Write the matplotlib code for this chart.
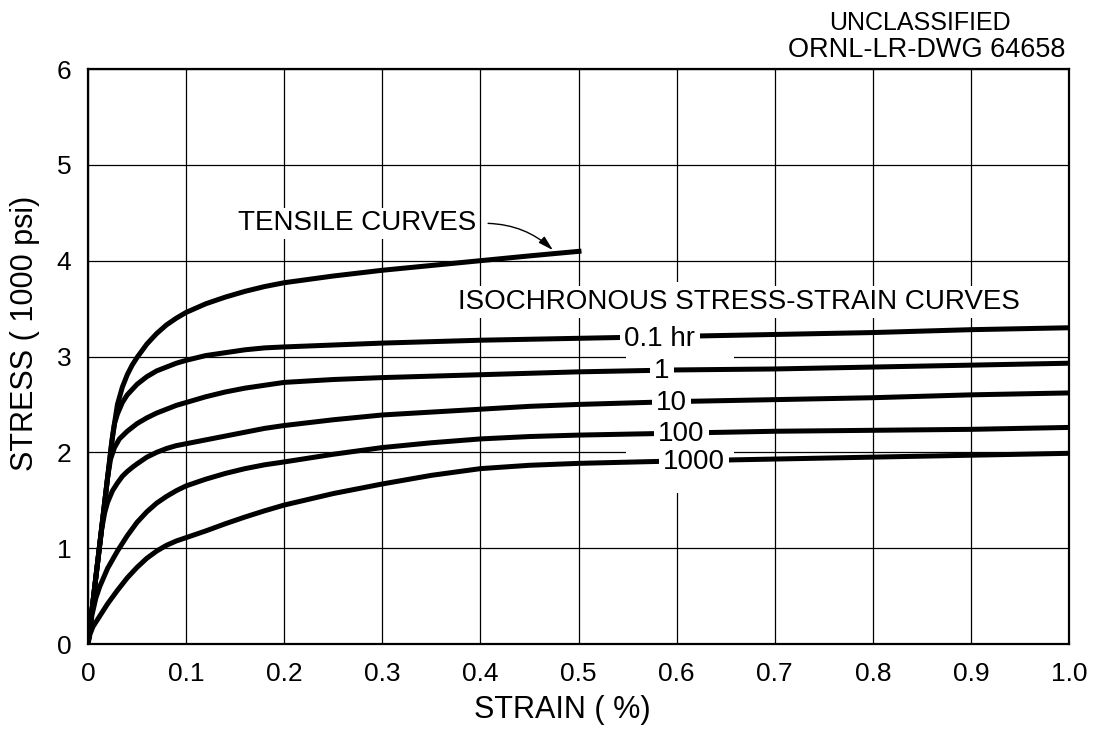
import matplotlib
matplotlib.use("Agg")
import matplotlib.pyplot as plt
from matplotlib.patches import Rectangle

plt.rcParams["font.family"] = ["Liberation Sans", "DejaVu Sans"]

# Strain (%) / stress (1000 psi) pairs for each curve
tensile_strain = [0.0, 0.010, 0.020, 0.025, 0.030, 0.035, 0.040, 0.045, 0.050, 0.060,
                  0.070, 0.080, 0.090, 0.100, 0.120, 0.140, 0.160, 0.180, 0.200, 0.25,
                  0.30, 0.35, 0.40, 0.45, 0.503]
tensile_stress = [0.0, 0.87, 1.74, 2.17, 2.50, 2.68, 2.81, 2.91, 2.99, 3.13,
                  3.24, 3.33, 3.40, 3.46, 3.55, 3.62, 3.68, 3.73, 3.77, 3.84,
                  3.90, 3.95, 4.00, 4.05, 4.10]

hr01_strain = [0.0, 0.010, 0.020, 0.024, 0.027, 0.030, 0.035, 0.040, 0.050, 0.060,
               0.070, 0.080, 0.090, 0.100, 0.120, 0.140, 0.160, 0.180, 0.200, 0.25,
               0.30, 0.40, 0.50, 0.60, 0.70, 0.80, 0.90, 1.00]
hr01_stress = [0.0, 0.87, 1.74, 2.09, 2.30, 2.40, 2.52, 2.60, 2.71, 2.79,
               2.85, 2.89, 2.93, 2.96, 3.01, 3.04, 3.07, 3.09, 3.10, 3.12,
               3.14, 3.17, 3.19, 3.21, 3.23, 3.25, 3.28, 3.30]

hr1_strain = [0.0, 0.010, 0.020, 0.023, 0.027, 0.032, 0.040, 0.050, 0.060, 0.070,
              0.080, 0.090, 0.100, 0.120, 0.140, 0.160, 0.180, 0.200, 0.25, 0.30,
              0.40, 0.50, 0.60, 0.70, 0.80, 0.90, 1.00]
hr1_stress = [0.0, 0.87, 1.74, 1.93, 2.05, 2.14, 2.22, 2.30, 2.36, 2.41,
              2.45, 2.49, 2.52, 2.58, 2.63, 2.67, 2.70, 2.73, 2.76, 2.78,
              2.81, 2.84, 2.86, 2.87, 2.89, 2.91, 2.93]

hr10_strain = [0.0, 0.008, 0.014, 0.017, 0.020, 0.025, 0.030, 0.035, 0.040, 0.046,
               0.050, 0.060, 0.070, 0.080, 0.090, 0.100, 0.120, 0.140, 0.160, 0.180,
               0.200, 0.25, 0.30, 0.35, 0.40, 0.45, 0.50, 0.60, 0.70, 0.80,
               0.90, 1.00]
hr10_stress = [0.0, 0.70, 1.20, 1.37, 1.48, 1.60, 1.68, 1.75, 1.80, 1.85,
               1.88, 1.95, 2.00, 2.04, 2.07, 2.09, 2.13, 2.17, 2.21, 2.25,
               2.28, 2.34, 2.39, 2.42, 2.45, 2.48, 2.50, 2.53, 2.55, 2.57,
               2.60, 2.62]

hr100_strain = [0.0, 0.004, 0.008, 0.012, 0.020, 0.030, 0.040, 0.050, 0.060, 0.070,
                0.080, 0.090, 0.100, 0.120, 0.140, 0.160, 0.180, 0.200, 0.25, 0.30,
                0.35, 0.40, 0.45, 0.50, 0.60, 0.70, 0.80, 0.90, 1.00]
hr100_stress = [0.0, 0.30, 0.48, 0.60, 0.79, 0.97, 1.13, 1.27, 1.38, 1.47,
                1.54, 1.60, 1.65, 1.72, 1.78, 1.83, 1.87, 1.90, 1.98, 2.05,
                2.10, 2.14, 2.165, 2.18, 2.20, 2.22, 2.23, 2.24, 2.26]

hr1000_strain = [0.0, 0.002, 0.005, 0.010, 0.020, 0.030, 0.040, 0.050, 0.060, 0.070,
                 0.080, 0.090, 0.100, 0.120, 0.140, 0.160, 0.180, 0.200, 0.25, 0.30,
                 0.35, 0.40, 0.45, 0.50, 0.60, 0.70, 0.80, 0.90, 1.00]
hr1000_stress = [0.0, 0.10, 0.18, 0.26, 0.42, 0.56, 0.69, 0.80, 0.895, 0.97,
                 1.03, 1.075, 1.11, 1.18, 1.255, 1.325, 1.39, 1.45, 1.57, 1.67,
                 1.76, 1.83, 1.865, 1.885, 1.91, 1.93, 1.95, 1.97, 1.99]

# Inline curve labels: text, strain, stress
curve_labels = ["0.1 hr", "1", "10", "100", "1000"]
label_strain = [0.583, 0.585, 0.595, 0.605, 0.618]
label_stress = [3.18, 2.85, 2.52, 2.19, 1.90]

x_ticks = [0.0, 0.1, 0.2, 0.3, 0.4, 0.5, 0.6, 0.7, 0.8, 0.9, 1.0]
x_tick_labels = ["0", "0.1", "0.2", "0.3", "0.4", "0.5", "0.6", "0.7", "0.8", "0.9", "1.0"]
y_ticks = [0, 1, 2, 3, 4, 5, 6]

fig = plt.figure(figsize=(10.96, 7.35), dpi=100)
ax = fig.add_axes([0.0803, 0.1238, 0.8951, 0.7823])
ax.set_xlim(0, 1.0)
ax.set_ylim(0, 6)

ax.set_xticks(x_ticks)
ax.set_xticklabels(x_tick_labels)
ax.set_yticks(y_ticks)
ax.tick_params(length=0, labelsize=19, colors="black")
ax.tick_params(axis="x", pad=13)
ax.tick_params(axis="y", pad=12)
ax.grid(True, color="black", linewidth=0.9, zorder=1)
ax.set_axisbelow(True)
for sp in ax.spines.values():
    sp.set_linewidth(1.6)
    sp.set_zorder(5)

# knock-out behind the stacked curve labels
ax.add_patch(Rectangle((0.548, 1.58), 0.11, 2.2, facecolor="white",
                       edgecolor="none", zorder=1.5))

lw = 3.6
for xs, ys in [(tensile_strain, tensile_stress), (hr01_strain, hr01_stress),
               (hr1_strain, hr1_stress), (hr10_strain, hr10_stress),
               (hr100_strain, hr100_stress), (hr1000_strain, hr1000_stress)]:
    ax.plot(xs, ys, color="black", linewidth=lw, solid_capstyle="butt",
            solid_joinstyle="round", zorder=3)

for txt, lx, ly in zip(curve_labels, label_strain, label_stress):
    ax.text(lx, ly, txt, fontsize=20, ha="center", va="center", zorder=4,
            bbox=dict(facecolor="white", edgecolor="none", pad=3))

ax.text(0.274, 4.39, "TENSILE CURVES", fontsize=20, ha="center", va="center",
        zorder=4, bbox=dict(facecolor="white", edgecolor="none", pad=2))
ax.annotate("", xy=(0.476, 4.09), xytext=(0.405, 4.39),
            arrowprops=dict(arrowstyle="-|>,head_length=0.9,head_width=0.25",
                            color="black", linewidth=1.0,
                            connectionstyle="arc3,rad=-0.2"),
            zorder=4)
ax.text(0.664, 3.57, "ISOCHRONOUS STRESS-STRAIN CURVES", fontsize=20,
        ha="center", va="center", zorder=4,
        bbox=dict(facecolor="white", edgecolor="none", pad=2))

fig.text(562 / 1096, 1 - 710 / 735, "STRAIN ( %)", fontsize=22,
         ha="center", va="center")
fig.text(25 / 1096, 1 - 333 / 735, "STRESS ( 1000 psi)", fontsize=22,
         ha="center", va="center", rotation=90)
fig.text(920 / 1096, 1 - 23 / 735, "UNCLASSIFIED", fontsize=18,
         ha="center", va="center")
fig.text(927 / 1096, 1 - 50 / 735, "ORNL-LR-DWG 64658", fontsize=19.5,
         ha="center", va="center")

fig.savefig("out.png", dpi=100, facecolor="white")
